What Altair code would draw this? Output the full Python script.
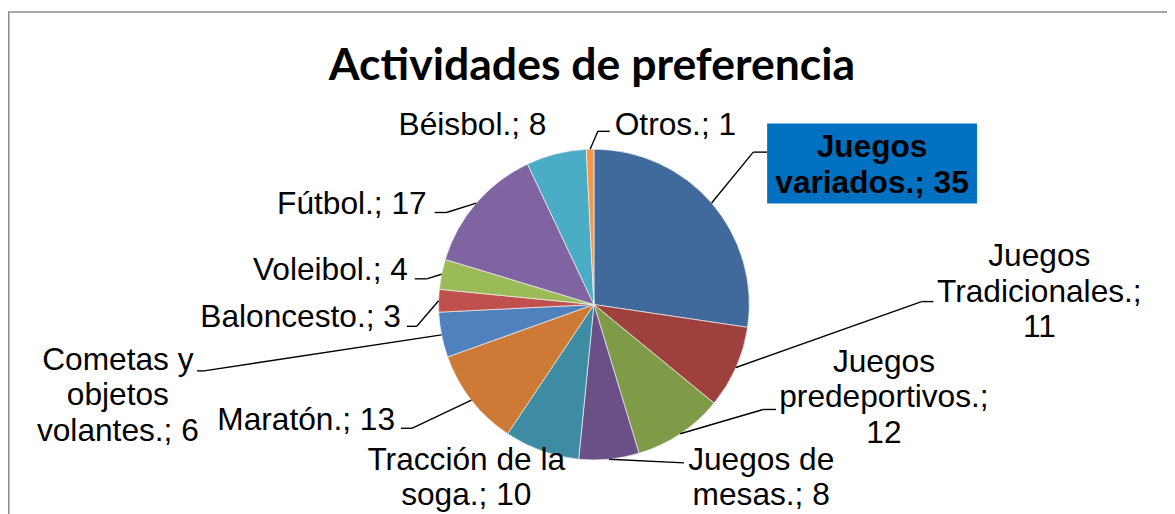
import altair as alt
import pandas as pd

# ---------------- data ----------------
TITLE = "Actividades de preferencia"
categories = [
    "Juegos variados.", "Juegos Tradicionales.", "Juegos predeportivos.",
    "Juegos de mesas.", "Tracción de la soga.", "Maratón.",
    "Cometas y objetos volantes.", "Baloncesto.", "Voleibol.",
    "Fútbol.", "Béisbol.", "Otros.",
]
values = [35, 11, 12, 8, 10, 13, 6, 3, 4, 17, 8, 1]
# how each data label is wrapped ("|" = line break)
label_wrap = [
    "Juegos|variados.;", "Juegos|Tradicionales.;|", "Juegos|predeportivos.;|",
    "Juegos de|mesas.;", "Tracción de la|soga.;", "Maratón.;",
    "Cometas y|objetos|volantes.;", "Baloncesto.;", "Voleibol.;",
    "Fútbol.;", "Béisbol.;", "Otros.;",
]

# ---------------- styles / layout ----------------
colors = ["#416A9C", "#9E413E", "#7F9B47", "#6A5086", "#3D8CA3", "#CC7A35",
          "#4F81BD", "#C0504D", "#9BBB59", "#8064A2", "#4BACC6", "#F79646"]
OFF_X, OFF_Y = 4, 8          # page -> view coordinates
CX, CY, R = 596 - OFF_X, 305 - OFF_Y, 157
W, H = 1175 - OFF_X, 514 - OFF_Y
FONT = "Liberation Sans"
FS = 32

# label anchor (page px, first-line baseline), alignment and leader elbow/end
LAYOUT = {
    "Juegos variados.":            dict(align="center", tx=877, ty=156, bold=True,  leader=True,  bx=757, by=151, hx=771),
    "Juegos Tradicionales.":       dict(align="center", tx=1046, ty=266, bold=False, leader=True, bx=927, by=302, hx=939),
    "Juegos predeportivos.":       dict(align="center", tx=889, ty=373, bold=False, leader=True,  bx=767, by=411, hx=780),
    "Juegos de mesas.":            dict(align="center", tx=765, ty=472, bold=False, leader=True,  bx=687, by=465, hx=687),
    "Tracción de la soga.":        dict(align="center", tx=467, ty=472, bold=False, leader=False, bx=0, by=0, hx=0),
    "Maratón.":                    dict(align="right",  tx=395, ty=432, bold=False, leader=True,  bx=412, by=430, hx=401),
    "Cometas y objetos volantes.": dict(align="center", tx=115, ty=371, bold=False, leader=True,  bx=202, by=372, hx=195),
    "Baloncesto.":                 dict(align="right",  tx=401, ty=328, bold=False, leader=True,  bx=417, by=327, hx=407),
    "Voleibol.":                   dict(align="right",  tx=408, ty=280, bold=False, leader=True,  bx=427, by=279, hx=415),
    "Fútbol.":                     dict(align="right",  tx=427, ty=214, bold=False, leader=True,  bx=447, by=212, hx=435),
    "Béisbol.":                    dict(align="right",  tx=548, ty=134, bold=False, leader=False, bx=0, by=0, hx=0),
    "Otros.":                      dict(align="left",   tx=617, ty=134, bold=False, leader=True,  bx=600, by=130, hx=612),
}
BOX = dict(x0=771, x1=983, y0=122, y1=203)

rows = []
for i, (c, v, wrap) in enumerate(zip(categories, values, label_wrap)):
    lay = LAYOUT[c]
    parts = wrap.split("|")
    if parts[-1] == "":
        parts[-1] = str(v)
    else:
        parts[-1] = parts[-1] + " " + str(v)
    rows.append(dict(
        idx=i, cat=c, v=v, label="\n".join(parts),
        align=lay["align"], bold=lay["bold"], leader=lay["leader"],
        tx=lay["tx"] - OFF_X, ty=lay["ty"] - OFF_Y,
        bx=lay["bx"] - OFF_X, by=lay["by"] - OFF_Y, hx=lay["hx"] - OFF_X,
    ))
df = pd.DataFrame(rows)
base = alt.Chart(df)

# border
border = alt.Chart(pd.DataFrame({"k": [0]})).mark_rect(
    fill=None, stroke="#8a8a8a", strokeWidth=1.5
).encode(x=alt.value(0.75), x2=alt.value(W + 20), y=alt.value(1.5), y2=alt.value(H + 20))

# pie
pie = base.mark_arc(outerRadius=R, stroke="#f2f2f2", strokeWidth=0.7).encode(
    theta=alt.Theta("v:Q", stack=True),
    color=alt.Color("cat:N", scale=alt.Scale(domain=categories, range=colors), legend=None),
    order=alt.Order("idx:Q"),
    x=alt.value(CX), y=alt.value(CY),
)

# leader lines: slice edge (computed from data) -> elbow -> label
edges = base.transform_joinaggregate(total="sum(v)").transform_window(
    cum="sum(v)", sort=[alt.SortField("idx")], frame=[None, 0]
).transform_calculate(
    mid="(datum.cum - datum.v / 2) / datum.total * 2 * PI",
    ex=f"{CX} + {R} * sin(datum.mid)",
    ey=f"{CY} - {R} * cos(datum.mid)",
).transform_filter("datum.leader")

seg1 = edges.mark_rule(color="black", strokeWidth=1.4).encode(
    x=alt.X("ex:Q", scale=None, axis=None), y=alt.Y("ey:Q", scale=None, axis=None),
    x2="bx:Q", y2="by:Q",
)
seg2 = base.transform_filter("datum.leader").mark_rule(color="black", strokeWidth=1.4).encode(
    x=alt.X("bx:Q", scale=None, axis=None), y=alt.Y("by:Q", scale=None, axis=None),
    x2="hx:Q", y2="by:Q",
)

box = alt.Chart(pd.DataFrame({"k": [0]})).mark_rect(fill="#0070C0").encode(
    x=alt.value(BOX["x0"] - OFF_X), x2=alt.value(BOX["x1"] - OFF_X),
    y=alt.value(BOX["y0"] - OFF_Y), y2=alt.value(BOX["y1"] - OFF_Y),
)

def text_layer(align, bold):
    return base.transform_filter(
        f"datum.align == '{align}' && datum.bold == {str(bold).lower()}"
    ).mark_text(
        align=align, baseline="alphabetic", font=FONT, fontSize=FS,
        fontWeight="bold" if bold else "normal", lineBreak="\n", lineHeight=36, color="black",
    ).encode(
        x=alt.X("tx:Q", scale=None, axis=None), y=alt.Y("ty:Q", scale=None, axis=None),
        text="label:N",
    )

texts = [text_layer("center", False), text_layer("right", False),
         text_layer("left", False), text_layer("center", True)]

title = alt.Chart(pd.DataFrame({"t": [TITLE]})).mark_text(
    font="Lato", fontSize=45, fontWeight="bold", color="black", align="center", baseline="alphabetic"
).encode(x=alt.value(594 - OFF_X), y=alt.value(78 - OFF_Y), text="t:N")

chart = alt.layer(border, pie, seg1, seg2, box, *texts, title).properties(
    width=W, height=H, padding=0, autosize="none"
).configure_view(stroke=None)

chart.save("out.html", embed_options={"renderer": "svg", "actions": False})
